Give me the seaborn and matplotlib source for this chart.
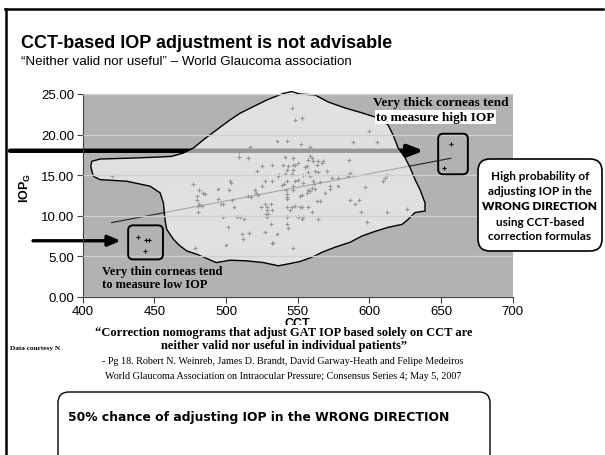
import matplotlib
matplotlib.use("Agg")
import matplotlib.pyplot as plt
from matplotlib.patches import Polygon, FancyBboxPatch, Rectangle
from matplotlib.lines import Line2D
from matplotlib.transforms import blended_transform_factory
import numpy as np
import pandas as pd
import seaborn as sns

# CCT (um) vs IOPg (mmHg)
cct = [546.0, 547.9, 553.3, 535.8, 542.8, 516.7, 509.3, 509.3, 515.1, 541.1, 547.0, 524.9,
       521.8, 531.9, 540.0, 543.5, 546.5, 542.3, 547.0, 541.1, 546.0, 536.5, 537.2, 550.4,
       600.0, 588.8, 605.1, 552.1, 558.6, 585.8, 558.6, 559.8, 557.4, 560.9, 564.4, 566.7,
       567.9, 563.3, 556.3, 555.1, 570.2, 562.1, 564.4, 557.4, 553.9, 558.6, 548.1, 586.5,
       573.7, 578.3, 585.3, 612.1,
       548.1, 550.4, 553.9, 560.9, 561.4, 565.6, 572.5, 572.5, 578.3, 597.0, 609.7, 610.9,
       551.6, 552.8, 556.3, 557.4, 558.6, 562.1, 559.8, 563.3, 565.6, 569.1, 586.5, 590.0,
       592.8, 548.1, 551.6, 553.2, 557.0, 559.8, 594.0, 612.1, 626.0, 550.4, 553.9, 553.2,
       564.0, 598.1,
       477.2, 481.1, 483.7, 485.3, 480.0, 479.5, 481.4, 480.7, 483.0, 480.7, 502.8, 503.3,
       502.3, 494.2, 494.4, 496.3, 497.7, 504.0, 505.8, 498.1, 507.9, 509.8, 512.7, 501.6,
       510.9, 512.1, 516.2, 500.0, 478.3, 517.4, 515.1, 520.2, 520.9, 522.5, 524.9, 527.2,
       531.9, 538.8, 540.4, 541.8, 542.3, 542.8, 542.3, 547.0, 546.5, 542.8, 524.4, 527.2,
       528.4, 531.2, 528.8, 527.9, 529.5, 528.8, 531.9, 542.3, 545.8, 544.7, 531.2, 527.2,
       535.8, 542.8, 543.5, 531.9, 532.6, 546.5, 542.3,
       420.2,
       438.7, 444.0, 446.5, 443.7, 656.8, 652.0]
iop = [23.3, 21.8, 22.0, 19.15, 19.15, 18.46, 17.85, 17.2, 17.1, 17.27, 17.1, 16.08,
       15.55, 16.29, 16.29, 16.08, 16.29, 15.67, 15.67, 15.15, 15.15, 14.85, 15.06, 16.5,
       20.46, 19.03, 19.03, 18.83, 18.46, 16.9, 17.39, 17.1, 16.9, 16.7, 16.7, 16.5,
       16.7, 16.29, 16.08, 15.96, 15.55, 15.47, 15.39, 15.39, 15.06, 14.85, 16.2, 15.27,
       14.65, 14.65, 14.94, 15.06,
       14.32, 14.45, 14.04, 14.24, 13.92, 14.16, 13.63, 13.34, 13.63, 13.55, 14.24, 14.65,
       12.4, 12.6, 12.81, 13.22, 13.01, 13.3, 13.43, 11.78, 11.78, 12.73, 11.87, 11.46,
       11.87, 11.17, 11.1, 11.1, 11.1, 10.48, 10.48, 10.48, 10.85, 9.82, 9.82, 9.54,
       9.62, 9.21,
       13.96, 13.1, 12.81, 12.69, 12.4, 11.87, 11.46, 11.17, 11.17, 10.48, 14.32, 14.04,
       13.1, 13.34, 12.08, 11.46, 11.46, 11.87, 11.1, 9.82, 9.82, 9.82, 9.54, 8.59,
       7.7, 7.08, 7.9, 6.38, 6.06, 12.27, 12.4, 13.1, 12.81, 12.6, 13.63, 14.32,
       14.32, 13.83, 13.92, 13.22, 12.69, 12.27, 11.99, 13.63, 13.22, 14.32, 11.1, 11.46,
       11.1, 11.46, 10.64, 10.24, 10.15, 9.82, 10.64, 11.05, 11.1, 10.64, 8.92, 8.03,
       7.7, 9.01, 8.43, 6.68, 6.68, 6.06, 9.82,
       14.93,
       7.4, 7.0, 7.0, 5.6, 18.8, 15.9]

# hand drawn outline around the bulk of the data
outline_cct = [406.3, 412.1, 435.3, 454.0, 462.1, 470.2, 477.2, 484.2, 493.5, 502.8, 509.8,
               519.1, 528.4, 540.0, 545.8, 551.6, 562.1, 571.2, 583.0, 594.9, 606.0, 613.0,
               616.5, 620.0, 624.9, 628.4, 631.9, 635.3, 638.8, 638.8, 631.9, 627.0, 622.8,
               613.0, 604.0, 594.9, 586.5, 576.0, 567.0, 560.0, 551.6, 544.7, 536.5, 526.0,
               514.4, 502.8, 493.2, 479.5, 472.6, 467.9, 463.3, 458.6, 457.4, 456.3, 454.0,
               447.0, 430.7, 412.1, 407.4, 405.6]
outline_iop = [16.69, 16.98, 17.10, 17.23, 17.31, 17.72, 18.33, 19.35, 20.58, 21.81, 22.63,
               23.45, 24.26, 25.08, 25.29, 25.00, 24.88, 24.02, 23.28, 22.67, 22.05, 21.19,
               19.97, 18.37, 17.14, 15.92, 14.44, 13.22, 11.58, 10.56, 10.39, 9.53, 8.92,
               8.55, 8.06, 7.49, 6.71, 6.10, 5.48, 4.87, 4.34, 4.09, 3.81, 4.21,
               4.42, 4.50, 4.21, 5.24, 5.65, 6.26, 7.08, 8.31, 9.53, 11.58, 12.81,
               13.63, 14.24, 14.44, 14.85, 16.08]

x_ticks = [400, 450, 500, 550, 600, 650, 700]
y_ticks = [0, 5, 10, 15, 20, 25]

title = "CCT-based IOP adjustment is not advisable"
subtitle = "\u201cNeither valid nor useful\u201d \u2013 World Glaucoma association"
thick_note = ["Very thick corneas tend", "to measure high IOP"]
thin_note = ["Very thin corneas tend", "to measure low IOP"]
callout = ["High probability of", "adjusting IOP in the", "WRONG DIRECTION",
           "using CCT-based", "correction formulas"]
quote = ["\u201cCorrection nomograms that adjust GAT IOP based solely on CCT are",
         "neither valid nor useful in individual patients\u201d"]
source = ["- Pg 18. Robert N. Weinreb, James D. Brandt, David Garway-Heath and Felipe Medeiros",
          "World Glaucoma Association on Intraocular Pressure; Consensus Series 4; May 5, 2007"]
courtesy = "Data courtesy N"
bottom_msg = "50% chance of adjusting IOP in the WRONG DIRECTION"

plt.rcParams['font.family'] = 'Liberation Sans'

W, H = 605, 456


def fx(px):
    return px / W


def fy(py):
    return 1 - py / H


fig = plt.figure(figsize=(W / 100, H / 100), dpi=100)
ax = fig.add_axes([fx(82.7), fy(297.7), (512.7 - 82.7) / W, (297.7 - 95) / H])
ax.set_facecolor('#b2b2b2')

df = pd.DataFrame({'CCT': cct, 'IOPG': iop})
sns.regplot(data=df, x='CCT', y='IOPG', scatter=False, ci=None, color='#222222',
            line_kws=dict(lw=0.8, zorder=1.9), ax=ax)
sns.scatterplot(data=df, x='CCT', y='IOPG', marker='+', s=10, color='black',
                linewidth=0.8, zorder=2, ax=ax)

# arrows coming in from the slide margin
trans = blended_transform_factory(fig.transFigure, ax.transData)
ax.annotate('', xy=(638, 18), xycoords='data', xytext=(fx(10), 18), textcoords=trans,
            arrowprops=dict(arrowstyle='-|>,head_length=0.9,head_width=0.35', lw=3.2,
                            color='black', shrinkA=0, shrinkB=0),
            zorder=2.1, annotation_clip=False)
ax.annotate('', xy=(426.5, 6.9), xycoords='data', xytext=(fx(33), 6.9), textcoords=trans,
            arrowprops=dict(arrowstyle='-|>,head_length=0.75,head_width=0.32', lw=2.4,
                            color='black', shrinkA=0, shrinkB=0),
            zorder=2.1, annotation_clip=False)

blob = Polygon(np.column_stack([outline_cct, outline_iop]), closed=True,
               facecolor=(1, 1, 1, 0.6), edgecolor='black', lw=1.0, zorder=2.2, clip_on=False)
ax.add_patch(blob)

asp = (430 / 300) / (202.7 / 25)
for x0, y0, w, h in [(431.7, 4.6, 24.3, 4.2), (648, 15.1, 20.7, 5.0)]:
    ax.add_patch(FancyBboxPatch((x0, y0), w, h, boxstyle='round,pad=0,rounding_size=3.5',
                                mutation_aspect=asp, fc='none', ec='black', lw=1.4,
                                zorder=4, clip_on=False))

ax.set_xlim(400, 700)
ax.set_ylim(0, 25)
ax.set_xticks(x_ticks)
ax.set_yticks(y_ticks)
ax.set_yticklabels([f'{v:.2f}' for v in y_ticks])
ax.yaxis.grid(True, color='#d0d0d0', lw=1.0)
ax.set_axisbelow(False)
for s in ['top', 'right']:
    ax.spines[s].set_visible(False)
for s in ['left', 'bottom']:
    ax.spines[s].set_color('#404040')
    ax.spines[s].set_linewidth(0.8)
ax.tick_params(direction='out', length=4, width=0.8, color='#404040', labelsize=9.5, pad=2)
ax.set_xlabel('CCT', fontsize=9, fontweight='bold')
ax.set_ylabel(r'IOP$_\mathregular{G}$', fontsize=9, fontweight='bold')
ax.xaxis.set_label_coords(0.5, -0.10)
ax.yaxis.set_label_coords(-0.1156, 0.541)

serif = 'Liberation Serif'
fig.text(fx(373), fy(103), thick_note[0], family=serif, weight='bold', fontsize=9.6, va='center')
fig.text(fx(376), fy(118), thick_note[1], family=serif, weight='bold', fontsize=9.6, va='center',
         bbox=dict(fc='white', ec='none', pad=1.0))
fig.text(fx(102), fy(272), thin_note[0], family=serif, weight='bold', fontsize=9, va='center')
fig.text(fx(102), fy(285), thin_note[1], family=serif, weight='bold', fontsize=9, va='center')

# callout on the right
fig.add_artist(FancyBboxPatch((fx(478), fy(252)), (602 - 478) / W, (252 - 160) / H,
                              boxstyle='round,pad=0,rounding_size=0.02', mutation_aspect=W / H,
                              transform=fig.transFigure, fc='white', ec='black', lw=1.2))
for i, line in enumerate(callout):
    fig.text(fx(540), fy(177 + 15 * i), line, family='Lato',
             weight='heavy' if i == 2 else 'bold', fontsize=8.5, ha='center', va='center')

# title block and frame
fig.add_artist(Line2D([fx(5), fx(603)], [fy(10), fy(10)], transform=fig.transFigure,
                      color='black', lw=1.8))
fig.add_artist(Line2D([fx(6), fx(6)], [fy(10), fy(456)], transform=fig.transFigure,
                      color='black', lw=1.8))
fig.text(fx(21), fy(43), title, fontsize=13, weight='bold', va='center')
fig.text(fx(21), fy(62), subtitle, fontsize=9.6, va='center')

# quote block (covers the lower part of the axis label)
fig.text(fx(10), fy(349), courtesy, family=serif, weight='bold', fontsize=5.2, va='center')
fig.add_artist(Rectangle((fx(62), fy(388)), (520 - 62) / W, (388 - 326) / H,
                         transform=fig.transFigure, fc='white', ec='none'))
fig.text(fx(284), fy(333), quote[0], family=serif, weight='bold', fontsize=9,
         ha='center', va='center')
fig.text(fx(284), fy(346), quote[1], family=serif, weight='bold', fontsize=9,
         ha='center', va='center')
fig.text(fx(283), fy(362), source[0], family=serif, fontsize=7.3, ha='center', va='center')
fig.text(fx(283), fy(377), source[1], family=serif, fontsize=7.3, ha='center', va='center')

fig.add_artist(FancyBboxPatch((fx(58), fy(470)), (490 - 58) / W, (470 - 393) / H,
                              boxstyle='round,pad=0,rounding_size=0.018', mutation_aspect=W / H,
                              transform=fig.transFigure, fc='white', ec='black', lw=1.0))
fig.text(fx(68), fy(418), bottom_msg, family='DejaVu Sans', fontsize=8.9, weight='bold',
         va='center')

fig.savefig('out.png', dpi=100)
